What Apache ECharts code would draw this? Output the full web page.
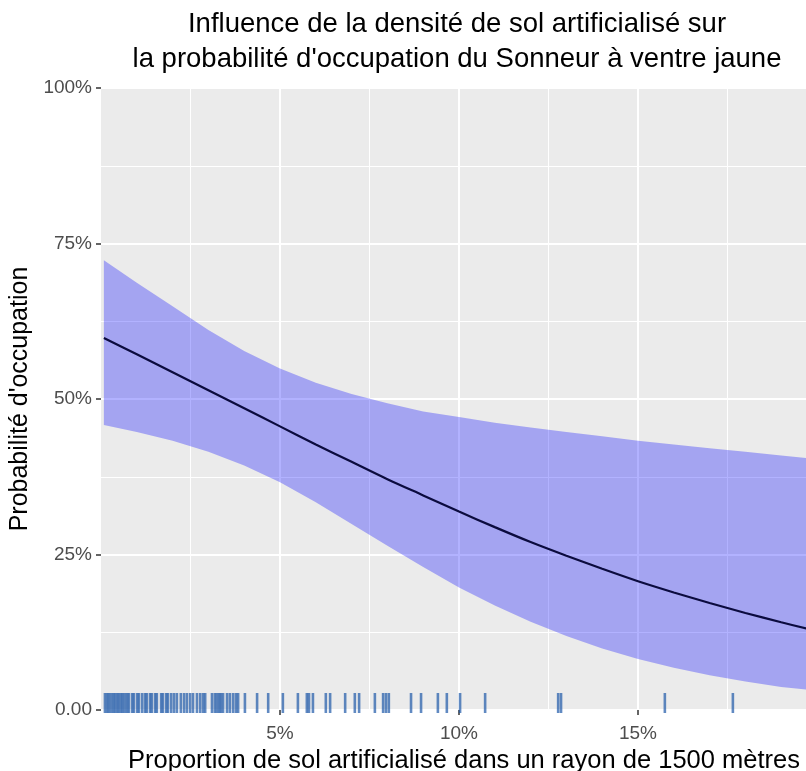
<!DOCTYPE html>
<html>
<head>
<meta charset="utf-8">
<script src="https://cdn.jsdelivr.net/npm/echarts@6/dist/echarts.min.js"></script>
<style>
  html, body { margin: 0; padding: 0; background: #fff; }
  #chart { width: 806px; height: 771px; }
</style>
</head>
<body>
<div id="chart"></div>
<script>
// Proportion de sol artificialisé (%)
const xs = [0.08, 1, 2, 3, 4, 5, 6, 7, 8, 9, 10, 11, 12, 13, 14, 15, 16, 17, 18, 19, 19.7];
// Probabilité prédite et intervalle de confiance
const fit = [0.598, 0.572, 0.543, 0.514, 0.485, 0.456, 0.427, 0.399, 0.371, 0.345, 0.319, 0.294, 0.270, 0.248, 0.227, 0.207, 0.189, 0.172, 0.156, 0.141, 0.131];
const lower = [0.458, 0.447, 0.433, 0.415, 0.393, 0.366, 0.334, 0.299, 0.264, 0.230, 0.197, 0.168, 0.142, 0.119, 0.099, 0.082, 0.068, 0.056, 0.046, 0.037, 0.033];
const upper = [0.723, 0.687, 0.649, 0.611, 0.577, 0.549, 0.526, 0.508, 0.493, 0.480, 0.471, 0.462, 0.454, 0.447, 0.440, 0.433, 0.427, 0.421, 0.415, 0.409, 0.405];
// Sites observés (rug)
const rug = [
  0.11, 0.17, 0.22, 0.28, 0.34, 0.39, 0.45, 0.50, 0.56, 0.61, 0.67, 0.73, 0.78,
  0.87, 0.92, 1.01, 1.06, 1.15, 1.23, 1.28, 1.37, 1.42, 1.51, 1.56, 1.68, 1.73,
  1.82, 1.87, 1.96, 2.04, 2.12, 2.23, 2.32, 2.40, 2.49, 2.57, 2.68, 2.77, 2.85,
  2.91, 3.10, 3.18, 3.24, 3.30, 3.35, 3.41, 3.52, 3.60, 3.69, 3.77, 3.83, 4.02,
  4.36, 4.67, 5.08, 5.50, 5.75, 5.81, 5.92, 6.28, 6.40, 6.82, 7.09, 7.21, 7.65,
  7.88, 7.96, 8.04, 8.66, 8.94, 9.41, 9.66, 10.03, 10.73, 12.77, 12.85, 15.75, 17.65
];
const xTicks = [5, 10, 15];
const yTickLabels = { 0: "0.00", 0.25: "25%", 0.5: "50%", 0.75: "75%", 1: "100%" };

const FONT = "Liberation Sans";

const chart = echarts.init(document.getElementById("chart"));

const option = {
  animation: false,
  backgroundColor: "#fff",
  graphic: [
    {
      type: "text",
      x: 457,
      y: 7,
      style: {
        text: "Influence de la densité de sol artificialisé sur\nla probabilité d'occupation du Sonneur à ventre jaune",
        font: "27.5px " + FONT,
        fill: "#000",
        textAlign: "center",
        lineHeight: 35,
      },
    },
  ],
  grid: {
    left: 101,
    width: 716,
    top: 88,
    bottom: 61,
    outerBoundsMode: "none",
    containLabel: false,
    show: true,
    backgroundColor: "#ebebeb",
    borderWidth: 0,
  },
  xAxis: {
    type: "value",
    min: 0,
    max: 20,
    interval: 5,
    name: "Proportion de sol artificialisé dans un rayon de 1500 mètres",
    nameLocation: "middle",
    nameGap: 37,
    nameTextStyle: { fontFamily: FONT, fontSize: 25.5, color: "#000", padding: [0, 0, 0, 10] },
    axisLine: { show: false },
    axisTick: { show: true, length: 5, customValues: xTicks, lineStyle: { color: "#333", width: 1.5 } },
    axisLabel: {
      customValues: xTicks,
      margin: 14,
      fontFamily: FONT,
      fontSize: 19,
      color: "#4d4d4d",
      formatter: (v) => v + "%",
    },
    splitLine: { show: true, lineStyle: { color: "#fff", width: 2 } },
    minorTick: { show: false, splitNumber: 2 },
    minorSplitLine: { show: true, lineStyle: { color: "#fff", width: 1 } },
  },
  yAxis: {
    type: "value",
    min: 0,
    max: 1,
    interval: 0.25,
    name: "Probabilité d'occupation",
    nameLocation: "middle",
    nameGap: 61,
    nameTextStyle: { fontFamily: FONT, fontSize: 25, color: "#000" },
    axisLine: { show: false },
    axisTick: { show: true, length: 5, lineStyle: { color: "#333", width: 1.5 } },
    axisLabel: {
      margin: 9,
      fontFamily: FONT,
      fontSize: 19,
      color: "#4d4d4d",
      formatter: (v) => yTickLabels[v],
    },
    splitLine: { show: true, lineStyle: { color: "#fff", width: 2 } },
    minorTick: { show: false, splitNumber: 2 },
    minorSplitLine: { show: true, lineStyle: { color: "#fff", width: 1 } },
  },
  series: [
    {
      // bande de confiance
      type: "custom",
      data: [[xs[0], lower[0]]],
      renderItem: (params, api) => {
        const top = xs.map((x, i) => api.coord([x, upper[i]]));
        const bottom = xs.map((x, i) => api.coord([x, lower[i]])).reverse();
        return {
          type: "polygon",
          shape: { points: top.concat(bottom) },
          style: { fill: "rgba(0,0,255,0.3)" },
        };
      },
      silent: true,
      z: 1,
    },
    {
      type: "line",
      data: xs.map((x, i) => [x, fit[i]]),
      symbol: "none",
      smooth: 0.3,
      lineStyle: { color: "#0b0b3e", width: 2.2 },
      z: 3,
    },
    {
      type: "custom",
      data: rug.map((x) => [x, 0]),
      renderItem: (params, api) => {
        const p = api.coord([api.value(0), 0]);
        return {
          type: "line",
          shape: { x1: p[0], y1: p[1] + 3, x2: p[0], y2: p[1] - 17 },
          style: { stroke: "rgba(30,88,168,0.7)", lineWidth: 2.6 },
        };
      },
      z: 5,
    },
  ],
};

chart.setOption(option);
</script>
</body>
</html>
